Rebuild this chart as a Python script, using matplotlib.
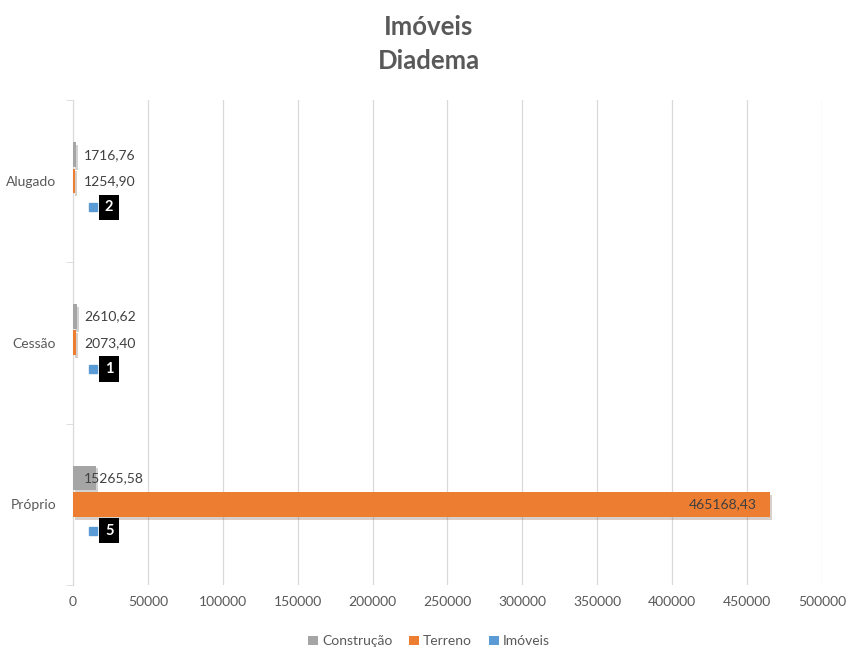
import matplotlib.pyplot as plt
import matplotlib.patheffects as pe
from matplotlib.patches import Patch
import numpy as np

# ============================================================
# Data
# ============================================================

categories = ["Próprio", "Cessão", "Alugado"]
construcao = [15265.58, 2610.62, 1716.76]
terreno = [465168.43, 2073.40, 1254.90]
imoveis = [5, 1, 2]

construcao_labels = ["15265,58", "2610,62", "1716,76"]
terreno_labels = ["465168,43", "2073,40", "1254,90"]
imoveis_labels = ["5", "1", "2"]

x_ticks = list(range(0, 500001, 50000))

# ============================================================
# Style
# ============================================================

GRAY = "#A5A5A5"
ORANGE = "#ED7D31"
BLUE = "#5B9BD5"
TEXT = "#595959"
LABEL = "#404040"

plt.rcParams["font.family"] = ["Lato", "DejaVu Sans"]

fig = plt.figure(figsize=(8.58, 6.68), dpi=100)
ax = fig.add_axes([0.085, 0.124, 0.873, 0.726])

y = np.arange(len(categories))
offset = 0.163
height = 0.154

shadow = [pe.SimplePatchShadow(offset=(1.5, -2), alpha=0.22), pe.Normal()]

series = [
    (construcao, GRAY, "Construção", offset),
    (terreno, ORANGE, "Terreno", 0),
    (imoveis, BLUE, "Imóveis", -offset),
]

for values, color, name, off in series:
    bars = ax.barh(y + off, values, height=height, color=color, zorder=3)
    for b in bars:
        b.set_path_effects(shadow)

# data labels
label_x = 7340
for i in range(len(categories)):
    ax.text(label_x, y[i] + offset, construcao_labels[i], ha="left",
            va="center", fontsize=10, color=LABEL, zorder=5)
    if terreno[i] > 100000:
        ax.text(terreno[i] - 9000, y[i], terreno_labels[i], ha="right",
                va="center", fontsize=10, color=LABEL, zorder=5)
    else:
        ax.text(label_x, y[i], terreno_labels[i], ha="left",
                va="center", fontsize=10, color=LABEL, zorder=5)
    ax.plot(13350, y[i] - offset, marker="s", markersize=5.5, color=BLUE,
            linestyle="none", zorder=5)
    ax.text(24200, y[i] - offset, imoveis_labels[i], ha="center",
            va="center", fontsize=10.5, color="white", fontweight="bold",
            zorder=5,
            bbox=dict(boxstyle="square,pad=0.38", facecolor="black",
                      edgecolor="none"))

ax.set_xlim(0, 500000)
ax.set_ylim(-0.5, 2.5)
ax.set_xticks(x_ticks)
ax.set_xticklabels([str(t) for t in x_ticks])
ax.set_yticks(y)
ax.set_yticklabels(categories)
ax.set_yticks([-0.5, 0.5, 1.5, 2.5], minor=True)

ax.tick_params(axis="x", length=0, labelsize=10, labelcolor=TEXT, pad=8)
ax.tick_params(axis="y", which="major", length=0, labelsize=10,
               labelcolor=TEXT, pad=12)
ax.tick_params(axis="y", which="minor", length=5, color="#D9D9D9")

ax.grid(axis="x", color="#D9D9D9", linewidth=0.9, zorder=0)
for s in ["top", "right", "bottom"]:
    ax.spines[s].set_visible(False)
ax.spines["left"].set_color("#D9D9D9")

fig.text(0.5, 0.978, "Imóveis\nDiadema", ha="center", va="top",
         fontsize=18.5, fontweight="bold", color=TEXT, linespacing=1.5)

handles = [Patch(facecolor=c, label=n) for _, c, n, _ in series]
fig.legend(handles=handles, loc="center", bbox_to_anchor=(0.5, 0.040),
           ncol=3, frameon=False, fontsize=10, labelcolor=TEXT,
           handlelength=0.7, handleheight=0.7, handletextpad=0.3,
           columnspacing=1.2)

fig.savefig("out.png", dpi=100)
